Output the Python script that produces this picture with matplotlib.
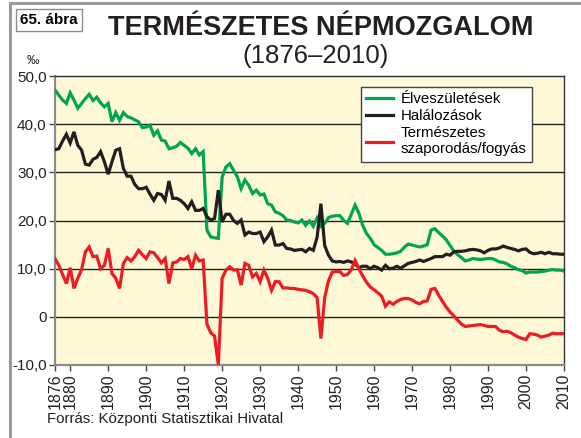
import matplotlib
matplotlib.use("Agg")
import matplotlib.pyplot as plt
from matplotlib.lines import Line2D

plt.rcParams['font.family'] = ['Liberation Sans', 'DejaVu Sans']

years = list(range(1876, 2011))

births = [
    47.1, 46.0, 45.0, 44.3, 46.5, 45.0, 43.3, 44.3, 45.3, 46.2,   # 1876-1885
    44.9, 45.6, 44.4, 43.6, 44.3, 40.5, 42.4, 40.8, 42.4, 41.6,   # 1886-1895
    41.3, 40.9, 40.5, 39.3, 39.4, 39.8, 37.7, 38.6, 36.7, 36.5,   # 1896-1905
    34.9, 35.1, 35.4, 36.2, 35.6, 35.0, 33.9, 34.9, 33.6, 34.3,   # 1906-1915
    18.0, 16.6, 16.4, 16.3, 29.0, 31.1, 31.8, 30.4, 29.1, 26.6,   # 1916-1925
    28.4, 27.3, 25.6, 26.3, 25.3, 25.5, 23.5, 23.2, 21.8, 21.5,   # 1926-1935
    21.0, 20.1, 20.0, 19.7, 19.5, 20.1, 19.0, 19.9, 18.8, 20.5,   # 1936-1945
    18.8, 19.4, 20.6, 20.9, 21.0, 21.0, 20.0, 19.4, 21.3, 23.2,   # 1946-1955
    21.5, 19.0, 17.3, 16.3, 15.0, 14.4, 13.8, 13.0, 13.0, 13.1,   # 1956-1965
    13.3, 13.6, 14.5, 15.1, 14.9, 14.7, 14.5, 14.7, 15.0, 18.0,   # 1966-1975
    18.3, 17.5, 16.8, 16.0, 14.8, 13.7, 12.9, 12.3, 11.6, 11.8,   # 1976-1985
    12.1, 12.0, 11.9, 12.0, 12.1, 12.1, 11.8, 11.4, 11.3, 11.0,   # 1986-1995
    10.5, 10.2, 9.8, 9.6, 9.1, 9.3, 9.3, 9.3, 9.4, 9.5,           # 1996-2005
    9.7, 9.8, 9.7, 9.7, 9.5,                                      # 2006-2010
]

deaths = [
    34.7, 34.9, 36.5, 37.9, 36.1, 38.4, 35.6, 34.6, 31.7, 31.5,   # 1876-1885
    32.7, 33.1, 34.3, 32.2, 29.6, 32.2, 34.6, 34.9, 30.8, 29.2,   # 1886-1895
    29.2, 27.5, 26.6, 26.6, 26.9, 25.5, 24.2, 25.6, 25.4, 24.2,   # 1896-1905
    28.2, 24.6, 24.6, 24.2, 23.5, 22.5, 23.9, 22.1, 22.1, 22.5,   # 1906-1915
    20.8, 20.1, 20.4, 26.3, 19.7, 21.3, 21.3, 20.0, 19.4, 20.1,   # 1916-1925
    17.0, 17.6, 17.3, 17.3, 17.6, 15.6, 16.6, 18.0, 14.9, 14.9,   # 1926-1935
    15.2, 14.2, 14.1, 13.8, 13.9, 14.0, 13.5, 14.2, 13.8, 16.5,   # 1936-1945
    23.5, 14.8, 12.8, 11.6, 11.4, 11.5, 11.3, 11.6, 11.4, 11.0,   # 1946-1955
    10.2, 10.5, 10.5, 10.0, 10.5, 10.2, 9.7, 10.7, 10.0, 10.1,    # 1956-1965
    10.5, 10.1, 10.6, 11.1, 11.3, 11.5, 11.8, 11.5, 11.8, 12.1,   # 1966-1975
    12.5, 12.5, 12.5, 13.0, 12.8, 13.5, 13.6, 13.6, 13.7, 13.9,   # 1976-1985
    14.0, 13.9, 13.7, 13.3, 13.8, 14.1, 14.1, 14.3, 14.7, 14.4,   # 1986-1995
    14.2, 14.0, 13.7, 14.0, 14.1, 13.4, 13.1, 13.2, 13.4, 13.1,   # 1996-2005
    13.4, 13.1, 13.1, 13.0, 13.0,                                 # 2006-2010
]

natural_change = [
    12.1, 10.7, 8.8, 6.9, 10.2, 5.9, 8.0, 9.8, 13.5, 14.5,        # 1876-1885
    12.5, 12.6, 10.0, 10.7, 14.2, 9.0, 8.0, 5.9, 11.1, 12.3,      # 1886-1895
    11.6, 12.5, 13.8, 12.9, 12.1, 13.5, 13.3, 12.3, 11.2, 12.1,   # 1896-1905
    6.9, 11.2, 11.4, 12.1, 11.9, 12.5, 10.0, 12.8, 11.6, 11.8,    # 1906-1915
    -1.5, -3.3, -4.0, -10.0, 8.0, 9.7, 10.4, 9.7, 9.8, 6.6,       # 1916-1925
    11.1, 10.7, 8.3, 9.0, 7.3, 9.7, 8.0, 5.5, 7.3, 7.3,           # 1926-1935
    6.0, 6.0, 5.9, 5.9, 5.7, 5.6, 5.5, 5.2, 4.8, 4.0,             # 1936-1945
    -4.5, 4.0, 7.5, 9.3, 9.4, 9.4, 8.6, 8.8, 9.8, 11.7,           # 1946-1955
    10.0, 8.5, 7.2, 6.2, 5.6, 5.0, 4.3, 2.2, 3.1, 2.6,            # 1956-1965
    3.2, 3.6, 3.8, 3.8, 3.5, 3.0, 2.7, 3.2, 3.3, 5.7,             # 1966-1975
    5.9, 4.5, 3.2, 2.0, 1.0, 0.2, -0.7, -1.5, -2.0, -1.9,         # 1976-1985
    -1.8, -1.7, -1.6, -1.8, -2.0, -2.0, -2.0, -2.8, -3.1, -3.0,   # 1986-1995
    -3.3, -3.8, -4.2, -4.5, -4.7, -3.5, -3.6, -3.8, -4.2, -4.0,   # 1996-2005
    -3.8, -3.4, -3.5, -3.5, -3.5,                                 # 2006-2010
]

series_labels = ["Élveszületések", "Halálozások", "Természetes\nszaporodás/fogyás"]
x_ticks = [1876, 1880, 1890, 1900, 1910, 1920, 1930, 1940, 1950, 1960,
           1970, 1980, 1990, 2000, 2010]
y_ticks = [-10, 0, 10, 20, 30, 40, 50]
y_tick_labels = ["-10,0", "0", "10,0", "20,0", "30,0", "40,0", "50,0"]

W, H = 581, 438
fig = plt.figure(figsize=(W / 100, H / 100), dpi=100)
fig.patch.set_facecolor('white')

ax = fig.add_axes([55 / W, 1 - 365 / H, (564 - 55) / W, (365 - 76) / H])
ax.set_facecolor('#FEF8D6')

for v in [0, 10, 20, 30, 40]:
    ax.axhline(v, color='#222222', lw=1.0, zorder=1)

green = '#00A551'
black = '#231F20'
red = '#ED1C24'
lw = 2.3
ax.plot(years, births, color=green, lw=lw, zorder=3, solid_joinstyle='miter', label=series_labels[0])
ax.plot(years, deaths, color=black, lw=lw, zorder=4, solid_joinstyle='miter', label=series_labels[1])
ax.plot(years, natural_change, color=red, lw=lw, zorder=5, solid_joinstyle='miter', label=series_labels[2])

ax.set_xlim(1876, 2010)
ax.set_ylim(-10, 50)
ax.set_xticks(x_ticks)
ax.set_xticklabels([str(t) for t in x_ticks], rotation=90, fontsize=11.5, color='#222222')
ax.set_yticks(y_ticks)
ax.set_yticklabels(y_tick_labels, fontsize=11, color='#222222')
ax.tick_params(axis='both', direction='out', length=4, width=1.0, color='#444444', pad=2)

for s in ['left', 'bottom']:
    ax.spines[s].set_color('#8C8C8C')
    ax.spines[s].set_linewidth(1.6)
for s in ['top', 'right']:
    ax.spines[s].set_color('#333333')
    ax.spines[s].set_linewidth(1.0)

leg = ax.legend(loc='upper left', bbox_to_anchor=((361 - 55) / (564 - 55), 1 - (87 - 76) / (365 - 76)),
                frameon=True, fancybox=False, fontsize=10.8, handlelength=1.8,
                handletextpad=0.5, borderpad=0.35, labelspacing=0.2, borderaxespad=0)
leg.get_frame().set_edgecolor('#444444')
leg.get_frame().set_linewidth(1.0)
leg.get_frame().set_facecolor('white')
leg.get_frame().set_alpha(1)
leg.set_zorder(10)

# outer frame lines
fig.add_artist(Line2D([10 / W, 1], [1 - 3 / H, 1 - 3 / H], color='#9A9A9A', lw=2.2))
fig.add_artist(Line2D([10 / W, 10 / W], [0, 1 - 3 / H], color='#9A9A9A', lw=2.2))

fig.text(49 / W, 1 - 20 / H, "65. ábra", fontsize=11, fontweight='bold', ha='center', va='center',
         bbox=dict(boxstyle='square,pad=0.25', fc='white', ec='#8C8C8C', lw=1.0))
fig.text(321 / W, 1 - 28 / H, "TERMÉSZETES NÉPMOZGALOM", fontsize=19.5, fontweight='bold',
         ha='center', va='center', color='#231F20')
fig.text(316 / W, 1 - 56 / H, "(1876–2010)", fontsize=18.5, ha='center', va='center', color='#231F20')
fig.text(33 / W, 1 - 61 / H, "‰", fontsize=9, ha='center', va='center', color='#231F20')
fig.text(47 / W, 1 - 419 / H, "Forrás: Központi Statisztikai Hivatal", fontsize=10.8,
         ha='left', va='center', color='#231F20')

fig.savefig('out.png', dpi=100)
